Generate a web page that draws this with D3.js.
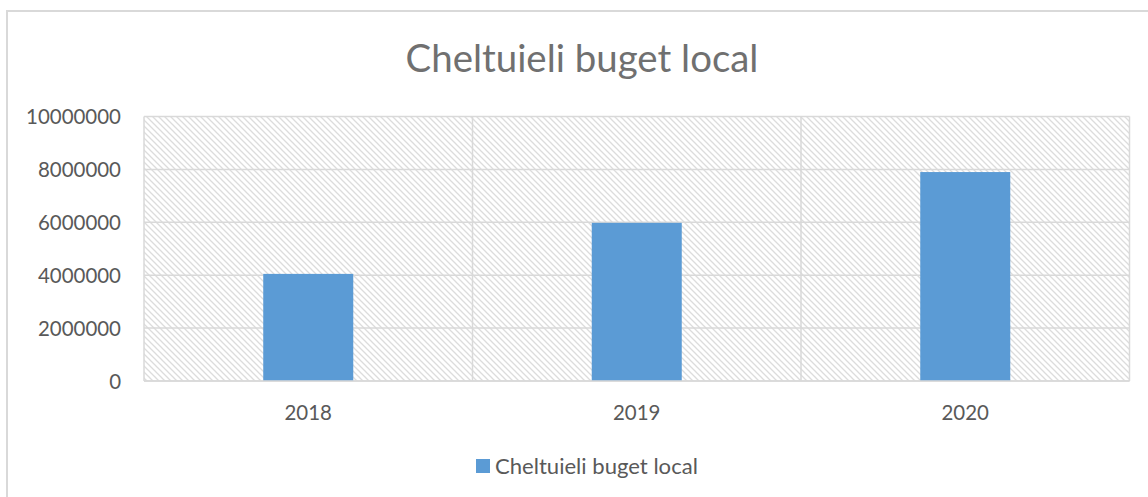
<!DOCTYPE html>
<html>
<head>
<meta charset="utf-8">
<script src="https://cdn.jsdelivr.net/npm/d3@7/dist/d3.min.js"></script>
<style>
  html, body { margin: 0; padding: 0; background: #fff; }
  svg { display: block; }
  text { font-family: Lato, "Open Sans", sans-serif; }
</style>
</head>
<body>
<svg id="chart" width="1148" height="497"></svg>
<script>
const categories = ["2018", "2019", "2020"];
const values = [4050000, 5980000, 7900000];
const yTicks = [0, 2000000, 4000000, 6000000, 8000000, 10000000];
const seriesName = "Cheltuieli buget local";
const titleText = "Cheltuieli buget local";

const W = 1148, H = 497;
const plot = { left: 144, right: 1129.5, top: 116.5, bottom: 381 };
const svg = d3.select("#chart");

// diagonal hatch pattern (downward diagonal)
const defs = svg.append("defs");
const P = 6;
const pat = defs.append("pattern")
  .attr("id", "hatch").attr("patternUnits", "userSpaceOnUse")
  .attr("width", P).attr("height", P);
pat.append("rect").attr("width", P).attr("height", P).attr("fill", "#fff");
pat.append("path")
  .attr("d", `M-1,-1 L${P + 1},${P + 1} M${P - 1},-1 L${P + 1},1 M-1,${P - 1} L1,${P + 1}`)
  .attr("stroke", "#dcdcdc").attr("stroke-width", 1.3).attr("fill", "none");

// outer chart border
svg.append("rect").attr("x", 7).attr("y", 11).attr("width", 1300).attr("height", 700)
  .attr("fill", "#fff").attr("stroke", "#d9d9d9").attr("stroke-width", 2);

const x = d3.scaleBand().domain(categories).range([plot.left, plot.right])
  .paddingInner(0.726).paddingOuter(0.363);
const y = d3.scaleLinear().domain([0, 10000000]).range([plot.bottom, plot.top]);

// plot area background
svg.append("rect").attr("x", plot.left).attr("y", plot.top)
  .attr("width", plot.right - plot.left).attr("height", plot.bottom - plot.top)
  .attr("fill", "url(#hatch)");

// horizontal gridlines
svg.append("g").selectAll("line").data(yTicks).join("line")
  .attr("x1", plot.left).attr("x2", plot.right)
  .attr("y1", d => y(d)).attr("y2", d => y(d))
  .attr("stroke", "#d9d9d9").attr("stroke-width", 1.5);

// vertical category gridlines
const step = x.step();
const vEdges = d3.range(categories.length + 1).map(i => plot.left + i * step);
svg.append("g").selectAll("line").data(vEdges).join("line")
  .attr("x1", d => d).attr("x2", d => d)
  .attr("y1", plot.top).attr("y2", plot.bottom)
  .attr("stroke", "#d9d9d9").attr("stroke-width", 1.5);

// bars
svg.append("g").selectAll("rect").data(values).join("rect")
  .attr("x", (d, i) => x(categories[i]))
  .attr("y", d => y(d))
  .attr("width", x.bandwidth())
  .attr("height", d => y(0) - y(d))
  .attr("fill", "#5b9bd5");

// baseline
svg.append("line").attr("x1", plot.left).attr("x2", plot.right)
  .attr("y1", y(0)).attr("y2", y(0)).attr("stroke", "#d9d9d9").attr("stroke-width", 1.5);

function fitText(sel, targetWidth) {
  const node = sel.node();
  const fs = parseFloat(sel.attr("font-size"));
  const w = node.getComputedTextLength();
  sel.attr("font-size", fs * targetWidth / w);
}

// y axis
const yAxis = d3.axisLeft(y).tickValues(yTicks).tickSize(0).tickPadding(0)
  .tickFormat(d3.format("d"));
const yg = svg.append("g").attr("transform", `translate(121,0)`).call(yAxis);
yg.select(".domain").remove();
yg.selectAll("text").attr("font-size", 20).attr("fill", "#595959")
  .style("font-family", "Lato, 'Open Sans', sans-serif").attr("dy", "0.36em");
{
  const t = yg.selectAll("text").filter(d => d === 10000000);
  const w = t.node().getComputedTextLength();
  const fs = 20 * 95 / w;
  yg.selectAll("text").attr("font-size", fs);
}

// x axis
const xAxis = d3.axisBottom(x).tickSize(0).tickPadding(0);
const xg = svg.append("g").attr("transform", `translate(0,${plot.bottom})`).call(xAxis);
xg.select(".domain").remove();
xg.selectAll("text").attr("font-size", 20).attr("fill", "#595959")
  .style("font-family", "Lato, 'Open Sans', sans-serif").attr("dy", 0).attr("y", 39);
{
  const t = xg.select("text");
  const w = t.node().getComputedTextLength();
  xg.selectAll("text").attr("font-size", 20 * 47.5 / w);
}

// title
const title = svg.append("text").attr("x", 582).attr("y", 72)
  .attr("text-anchor", "middle").attr("font-size", 34).attr("fill", "#707070")
  .attr("font-weight", 400).text(titleText);
fitText(title, 353);

// legend
const lg = svg.append("g");
lg.append("rect").attr("x", 476).attr("y", 459).attr("width", 14).attr("height", 14).attr("fill", "#5b9bd5");
const lt = lg.append("text").attr("x", 495).attr("y", 473.5).attr("font-size", 20)
  .attr("fill", "#595959").text(seriesName);
fitText(lt, 203);
</script>
</body>
</html>
